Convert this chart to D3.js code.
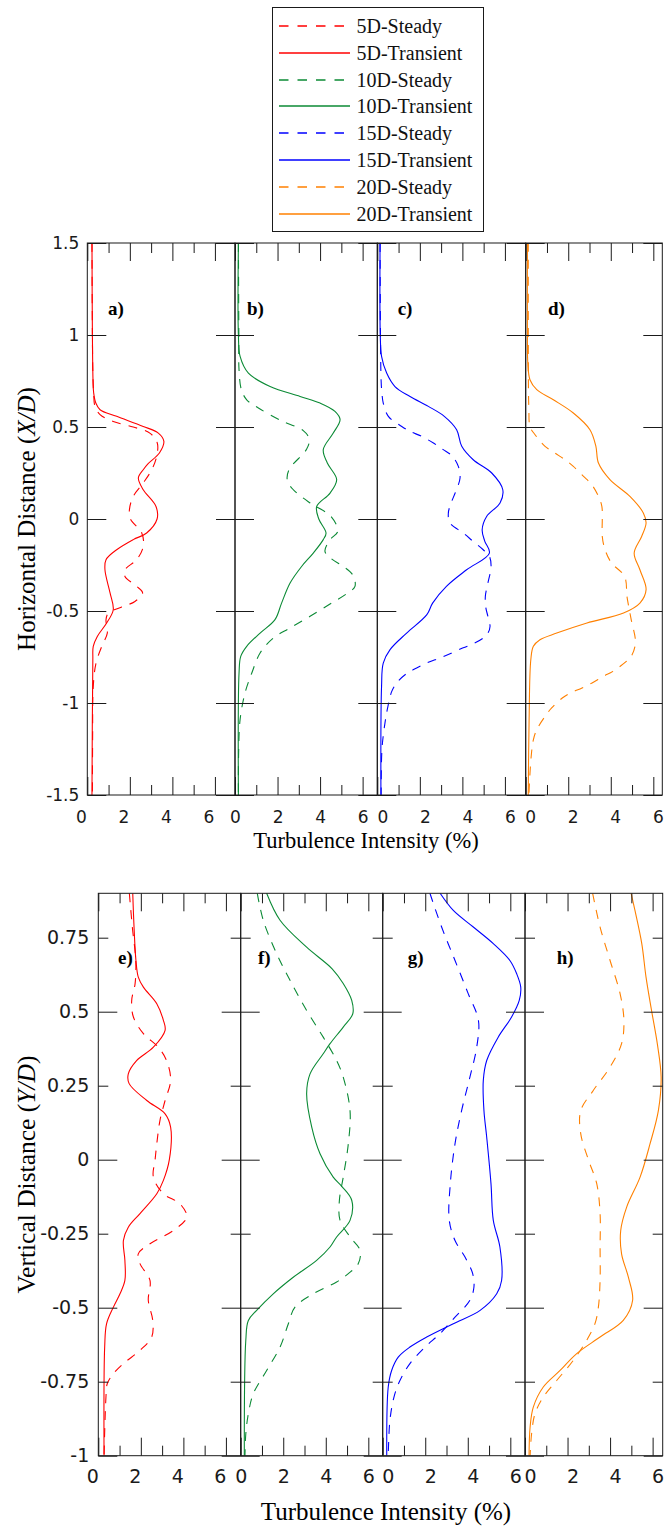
<!DOCTYPE html>
<html>
  <head>
    <meta charset="utf-8" />
    <title>Turbulence Intensity Profiles</title>
    <script src="https://d3js.org/d3.v7.min.js"></script>
    <style>
      body { margin: 0; background: #fff; }
      svg { display: block; }
    </style>
  </head>
  <body>
    <div id="chart"></div>

    <script>
      // Downstream stations and their colours
      const stations = ["5D", "10D", "15D", "20D"];
      const stationColors = ["#ff0000", "#0b8a35", "#0000ff", "#ff8000"];
      const cases = ["Steady", "Transient"];

      const xMajor = [0, 2, 4, 6];
      const xMinor = [1, 3, 5];
      const hTicks = [1.5, 1, 0.5, 0, -0.5, -1, -1.5];
      const vMajor = [0.5, 0, -0.5, -1];
      const vMinor = [0.75, 0.25, -0.25, -0.75];
      const vTicks = [0.75, 0.5, 0.25, 0, -0.25, -0.5, -0.75, -1];
      const topLetters = ["a)", "b)", "c)", "d)"];
      const bottomLetters = ["e)", "f)", "g)", "h)"];

      // Horizontal profiles: [X/D, TI %]
      const hSteady5D = [[1.5,0.22],[1.0,0.24],[0.8,0.26],[0.68,0.3],[0.612,0.36],[0.567,0.6],[0.53,1.22],[0.5,2.16],[0.467,2.94],[0.413,3.29],[0.34,3.26],[0.268,3.03],[0.196,2.63],[0.123,2.16],[0.05,1.98],[0,2.03],[-0.076,2.56],[-0.149,2.63],[-0.221,2.32],[-0.276,1.77],[-0.312,1.77],[-0.366,2.32],[-0.402,2.6],[-0.448,2.24],[-0.478,1.62],[-0.511,0.99],[-0.547,0.88],[-0.62,0.94],[-0.692,0.68],[-0.783,0.41],[-0.91,0.28],[-1.2,0.25],[-1.5,0.24]];
      const hTransient5D = [[1.5,0.22],[1.0,0.24],[0.75,0.27],[0.685,0.3],[0.63,0.4],[0.594,0.6],[0.558,1.38],[0.503,2.63],[0.467,3.34],[0.422,3.6],[0.359,3.39],[0.3,2.85],[0.268,2.63],[0.223,2.4],[0.159,2.63],[0.068,3.23],[0,3.28],[-0.076,2.79],[-0.112,2.16],[-0.167,1.38],[-0.221,0.88],[-0.276,0.83],[-0.402,1.07],[-0.493,1.22],[-0.565,0.91],[-0.638,0.47],[-0.692,0.28],[-0.765,0.26],[-1.5,0.22]];
      const hSteady10D = [[1.5,0.16],[1.0,0.18],[0.81,0.19],[0.703,0.3],[0.648,0.55],[0.603,1.1],[0.536,2.15],[0.48,3.21],[0.435,3.49],[0.38,3.37],[0.268,2.54],[0.21,2.46],[0.163,2.71],[0.087,3.53],[0.014,4.51],[-0.067,4.83],[-0.112,4.47],[-0.176,4.23],[-0.217,4.54],[-0.258,5.09],[-0.303,5.53],[-0.366,5.64],[-0.406,5.25],[-0.457,4.54],[-0.529,3.53],[-0.592,2.59],[-0.647,1.8],[-0.728,1.18],[-0.837,0.79],[-0.946,0.47],[-1.09,0.24],[-1.272,0.17],[-1.5,0.16]];
      const hTransient10D = [[1.5,0.16],[1.0,0.16],[0.884,0.24],[0.793,0.63],[0.72,1.65],[0.666,3.06],[0.63,4.0],[0.585,4.7],[0.54,4.94],[0.467,4.62],[0.377,4.15],[0.304,4.34],[0.214,4.78],[0.141,4.47],[0.068,3.84],[0,3.94],[-0.076,4.28],[-0.112,4.15],[-0.185,3.68],[-0.258,3.13],[-0.348,2.59],[-0.457,2.19],[-0.547,1.88],[-0.62,1.18],[-0.692,0.55],[-0.747,0.27],[-0.837,0.19],[-1.5,0.16]];
      const hSteady15D = [[1.5,0.13],[1.0,0.15],[0.75,0.18],[0.68,0.22],[0.63,0.28],[0.558,0.52],[0.503,1.15],[0.476,1.54],[0.449,2.09],[0.413,2.64],[0.377,3.1],[0.345,3.5],[0.286,3.81],[0.223,3.89],[0.141,3.66],[0.096,3.5],[0.033,3.34],[-0.022,3.42],[-0.076,4.04],[-0.122,4.51],[-0.167,4.98],[-0.203,5.27],[-0.258,5.35],[-0.348,5.2],[-0.42,5.08],[-0.48,5.1],[-0.529,5.2],[-0.584,5.3],[-0.62,5.2],[-0.647,4.98],[-0.678,4.51],[-0.7,4.04],[-0.728,3.5],[-0.755,2.95],[-0.779,2.4],[-0.81,1.85],[-0.84,1.38],[-0.891,0.91],[-0.937,0.68],[-1.018,0.5],[-1.109,0.36],[-1.25,0.22],[-1.5,0.18]];
      const hTransient15D = [[1.5,0.13],[1.0,0.14],[0.884,0.2],[0.793,0.44],[0.72,0.83],[0.666,1.54],[0.612,2.4],[0.558,3.15],[0.485,3.73],[0.395,3.97],[0.322,4.51],[0.25,5.38],[0.159,5.9],[0.087,5.77],[0.014,5.14],[-0.058,4.93],[-0.12,5.05],[-0.185,5.27],[-0.276,4.2],[-0.366,3.25],[-0.457,2.6],[-0.52,2.33],[-0.62,1.38],[-0.71,0.6],[-0.783,0.28],[-0.91,0.2],[-1.5,0.17]];
      const hSteady20D = [[1.5,0.12],[0.7,0.13],[0.6,0.15],[0.503,0.2],[0.458,0.44],[0.395,0.91],[0.358,1.38],[0.322,1.85],[0.286,2.24],[0.232,2.72],[0.186,3.11],[0.123,3.42],[0.069,3.58],[0,3.6],[-0.095,3.6],[-0.167,3.73],[-0.24,4.04],[-0.312,4.65],[-0.42,4.76],[-0.48,4.85],[-0.547,4.96],[-0.674,5.16],[-0.747,4.96],[-0.774,4.73],[-0.828,4.1],[-0.855,3.65],[-0.891,3.12],[-0.918,2.65],[-0.946,2.1],[-0.973,1.72],[-1.027,1.22],[-1.073,0.91],[-1.145,0.52],[-1.2,0.36],[-1.3,0.25],[-1.5,0.15]];
      const hTransient20D = [[1.5,0.08],[1.0,0.08],[0.848,0.1],[0.757,0.2],[0.703,0.52],[0.648,1.3],[0.576,2.24],[0.485,3.02],[0.395,3.3],[0.304,3.42],[0.214,3.96],[0.123,4.9],[0.033,5.53],[-0.022,5.66],[-0.095,5.45],[-0.185,5.1],[-0.276,5.37],[-0.384,5.66],[-0.457,5.37],[-0.511,4.6],[-0.565,2.88],[-0.62,1.46],[-0.656,0.67],[-0.692,0.36],[-0.765,0.24],[-1.09,0.16],[-1.5,0.12]];

      // Vertical profiles: [Y/D, TI %]
      const vSteady5D = [[0.9,1.46],[0.786,1.6],[0.673,1.76],[0.595,1.73],[0.538,1.57],[0.482,1.65],[0.426,2.12],[0.38,2.82],[0.335,3.21],[0.268,3.4],[0.2,3.14],[0.133,2.9],[0.054,2.75],[0,2.67],[-0.059,2.59],[-0.115,3.06],[-0.149,3.84],[-0.194,4.16],[-0.239,3.53],[-0.284,2.43],[-0.318,1.88],[-0.351,1.96],[-0.408,2.43],[-0.475,2.35],[-0.543,2.56],[-0.599,2.51],[-0.644,1.96],[-0.689,1.18],[-0.723,0.71],[-0.757,0.42],[-0.802,0.36],[-1,0.27]];
      const vTransient5D = [[0.9,1.62],[0.786,1.68],[0.673,1.77],[0.617,1.88],[0.583,2.12],[0.527,2.75],[0.471,3.06],[0.437,3.14],[0.38,2.59],[0.335,1.8],[0.29,1.41],[0.257,1.45],[0.2,2.28],[0.155,3.14],[0.11,3.4],[0,3.34],[-0.07,3.06],[-0.115,2.75],[-0.182,1.96],[-0.228,1.41],[-0.273,1.18],[-0.34,1.25],[-0.408,1.25],[-0.453,1.02],[-0.498,0.71],[-0.554,0.39],[-0.633,0.3],[-1,0.27]];
      const vSteady10D = [[0.9,0.78],[0.809,1.06],[0.696,1.69],[0.606,2.32],[0.504,3.1],[0.414,3.88],[0.335,4.51],[0.279,4.82],[0.166,5.14],[0.054,5.06],[-0.059,4.82],[-0.137,4.64],[-0.205,4.67],[-0.261,5.14],[-0.306,5.61],[-0.351,5.53],[-0.385,5.06],[-0.413,4.51],[-0.453,3.41],[-0.498,2.55],[-0.554,2.24],[-0.633,1.85],[-0.712,1.22],[-0.791,0.59],[-0.858,0.36],[-0.926,0.24],[-1,0.2]];
      const vTransient10D = [[0.9,1.22],[0.809,1.85],[0.718,3.1],[0.645,4.3],[0.595,4.82],[0.538,5.22],[0.493,5.27],[0.448,4.82],[0.392,4.2],[0.358,3.88],[0.29,3.26],[0.223,3.1],[0.11,3.34],[0.02,3.73],[-0.059,4.35],[-0.09,4.75],[-0.137,5.22],[-0.205,5.14],[-0.261,4.51],[-0.295,4.2],[-0.34,3.57],[-0.397,2.47],[-0.453,1.53],[-0.509,0.75],[-0.543,0.36],[-0.61,0.24],[-1,0.17]];
      const vSteady15D = [[0.9,2.22],[0.786,2.77],[0.673,3.4],[0.561,4.02],[0.471,4.5],[0.38,4.42],[0.279,4.1],[0.166,3.71],[0.054,3.4],[-0.08,3.18],[-0.205,3.13],[-0.273,3.4],[-0.329,3.87],[-0.385,4.23],[-0.43,4.29],[-0.475,4.1],[-0.532,3.4],[-0.588,2.69],[-0.633,1.99],[-0.689,1.28],[-0.746,0.81],[-0.802,0.53],[-0.88,0.34],[-1,0.26]];
      const vTransient15D = [[0.9,2.7],[0.842,3.32],[0.786,4.26],[0.73,5.2],[0.673,5.98],[0.628,6.3],[0.583,6.49],[0.538,6.42],[0.482,6.06],[0.414,5.43],[0.335,4.89],[0.268,4.73],[0.166,4.76],[0.076,4.89],[-0.08,5.09],[-0.205,5.2],[-0.295,5.51],[-0.408,5.59],[-0.453,5.36],[-0.509,4.58],[-0.554,3.32],[-0.599,2.07],[-0.633,1.28],[-0.667,0.73],[-0.712,0.42],[-0.768,0.26],[-1,0.19]];
      const vSteady20D = [[0.9,3.18],[0.786,3.53],[0.673,4.0],[0.561,4.47],[0.471,4.65],[0.392,4.54],[0.313,4.0],[0.234,3.21],[0.166,2.62],[0.088,2.62],[0,2.98],[-0.08,3.37],[-0.182,3.53],[-0.295,3.53],[-0.408,3.53],[-0.498,3.45],[-0.554,3.29],[-0.61,2.9],[-0.678,2.27],[-0.746,1.49],[-0.802,0.86],[-0.858,0.47],[-0.926,0.31],[-1,0.24]];
      const vTransient20D = [[0.9,4.99],[0.842,5.17],[0.73,5.49],[0.617,5.69],[0.504,5.95],[0.392,6.22],[0.279,6.4],[0.166,6.27],[0.054,5.88],[-0.059,5.41],[-0.16,4.78],[-0.239,4.5],[-0.318,4.54],[-0.397,4.86],[-0.475,5.06],[-0.543,4.62],[-0.599,3.53],[-0.655,2.43],[-0.712,1.65],[-0.768,0.86],[-0.836,0.39],[-0.903,0.24],[-1,0.19]];

      const hProfiles = [
        [hSteady5D, hTransient5D], [hSteady10D, hTransient10D],
        [hSteady15D, hTransient15D], [hSteady20D, hTransient20D]
      ];
      const vProfiles = [
        [vSteady5D, vTransient5D], [vSteady10D, vTransient10D],
        [vSteady15D, vTransient15D], [vSteady20D, vTransient20D]
      ];

      const serif = "'Liberation Serif', 'Times New Roman', serif";
      const sans = "'DejaVu Sans', sans-serif";
      const unit = 21.27; // px per 1 % of turbulence intensity

      const rows = [
        {
          edges: [87.3, 235, 377.3, 525.7, 662.3], top: 243, bottom: 795,
          domain: [-1.5, 1.5], yMajor: hTicks, yMinor: [], yLabels: hTicks,
          profiles: hProfiles, letters: topLetters,
          letterPos: [20.7, 12, 20.4, 22.3], letterY: 315,
          labelShift: [-6.5, 0, 5, 4.5], tickFont: 17, xPad: 16.3, yPad: 8,
          xTitleY: 848, xTitleX: 366, xTitleSize: 22.5,
          yTitle: ["Horizontal Distance (", "X/D", ")"], yTitleSize: 25
        },
        {
          edges: [98.3, 240.7, 382.7, 525, 662.7], top: 893.3, bottom: 1455.7,
          domain: [-1, 0.9], yMajor: vMajor, yMinor: vMinor, yLabels: vTicks,
          profiles: vProfiles, letters: bottomLetters,
          letterPos: [19.7, 17.3, 25, 31.7], letterY: 964,
          labelShift: [-6, 0, 5, 5], tickFont: 19, xPad: 14.2, yPad: 9,
          xTitleY: 1520, xTitleX: 386, xTitleSize: 25,
          yTitle: ["Vertical Distance (", "Y/D", ")"], yTitleSize: 25.5
        }
      ];

      const svg = d3.select("#chart").append("svg")
        .attr("width", 670).attr("height", 1528);

      function styleAxis(g, size) {
        g.select(".domain").remove();
        g.attr("font-family", sans).attr("font-size", size).attr("color", "#1a1a1a");
        g.selectAll("line").attr("stroke-width", 1);
      }

      rows.forEach((row, r) => {
        const y = d3.scaleLinear().domain(row.domain).range([row.bottom, row.top]);

        stations.forEach((st, i) => {
          const x0 = row.edges[i], x1 = row.edges[i + 1];
          const x = d3.scaleLinear().domain([0, 7]).range([x0, x0 + 7 * unit]);
          const g = svg.append("g");

          const clipId = `clip-${r}-${i}`;
          g.append("clipPath").attr("id", clipId).append("rect")
            .attr("x", x0).attr("y", row.top)
            .attr("width", x1 - x0).attr("height", row.bottom - row.top);

          // curves
          const line = d3.line()
            .x(d => x(d[1])).y(d => y(d[0]))
            .curve(d3.curveCatmullRom.alpha(0.5));
          const curves = g.append("g").attr("clip-path", `url(#${clipId})`);
          row.profiles[i].forEach((data, k) => {
            curves.append("path")
              .datum(data)
              .attr("d", line)
              .attr("fill", "none")
              .attr("stroke", stationColors[i])
              .attr("stroke-width", 1.1)
              .attr("stroke-dasharray", k === 0 ? "9,8" : null);
          });

          // bottom axis
          const bMaj = g.append("g").attr("transform", `translate(0,${row.bottom})`)
            .call(d3.axisBottom(x).tickValues(xMajor).tickSize(-18)
              .tickPadding(row.xPad).tickFormat(d3.format("d")));
          styleAxis(bMaj, row.tickFont);
          bMaj.selectAll("text").attr("dx", row.labelShift[i]);
          const bMin = g.append("g").attr("transform", `translate(0,${row.bottom})`)
            .call(d3.axisBottom(x).tickValues(xMinor).tickSize(-10).tickFormat(""));
          styleAxis(bMin, row.tickFont);

          // top axis
          const tMaj = g.append("g").attr("transform", `translate(0,${row.top})`)
            .call(d3.axisTop(x).tickValues(xMajor).tickSize(-18).tickFormat(""));
          styleAxis(tMaj, row.tickFont);
          const tMin = g.append("g").attr("transform", `translate(0,${row.top})`)
            .call(d3.axisTop(x).tickValues(xMinor).tickSize(-10).tickFormat(""));
          styleAxis(tMin, row.tickFont);

          // left / right axes
          const lMaj = g.append("g").attr("transform", `translate(${x0},0)`)
            .call(d3.axisLeft(y).tickValues(row.yMajor).tickSize(-19).tickFormat(""));
          styleAxis(lMaj, row.tickFont);
          const lMin = g.append("g").attr("transform", `translate(${x0},0)`)
            .call(d3.axisLeft(y).tickValues(row.yMinor).tickSize(-10).tickFormat(""));
          styleAxis(lMin, row.tickFont);
          const rMaj = g.append("g").attr("transform", `translate(${x1},0)`)
            .call(d3.axisRight(y).tickValues(row.yMajor).tickSize(-19).tickFormat(""));
          styleAxis(rMaj, row.tickFont);
          const rMin = g.append("g").attr("transform", `translate(${x1},0)`)
            .call(d3.axisRight(y).tickValues(row.yMinor).tickSize(-10).tickFormat(""));
          styleAxis(rMin, row.tickFont);

          if (i === 0) {
            const lab = g.append("g").attr("transform", `translate(${x0},0)`)
              .call(d3.axisLeft(y).tickValues(row.yLabels).tickSize(0)
                .tickPadding(row.yPad).tickFormat(d => String(d)));
            styleAxis(lab, row.tickFont);
          }

          // frame
          g.append("rect")
            .attr("x", x0).attr("y", row.top)
            .attr("width", x1 - x0).attr("height", row.bottom - row.top)
            .attr("fill", "none").attr("stroke", "#1a1a1a").attr("stroke-width", 1);

          // panel letter
          g.append("text")
            .attr("x", x0 + row.letterPos[i]).attr("y", row.letterY)
            .attr("font-family", serif).attr("font-weight", "bold")
            .attr("font-size", 19).text(row.letters[i]);
        });

        // axis titles
        svg.append("text")
          .attr("x", row.xTitleX).attr("y", row.xTitleY)
          .attr("text-anchor", "middle")
          .attr("font-family", serif).attr("font-size", row.xTitleSize)
          .text("Turbulence Intensity (%)");

        const yt = svg.append("text")
          .attr("transform", `translate(35,${(row.top + row.bottom) / 2}) rotate(-90)`)
          .attr("text-anchor", "middle")
          .attr("font-family", serif).attr("font-size", row.yTitleSize);
        yt.append("tspan").text(row.yTitle[0]);
        yt.append("tspan").attr("font-style", "italic").text(row.yTitle[1]);
        yt.append("tspan").text(row.yTitle[2]);
      });

      // legend
      const legendItems = stations.flatMap((s, i) =>
        cases.map((c, k) => ({ label: `${s}-${c}`, color: stationColors[i], dashed: k === 0 })));
      const legend = svg.append("g");
      legend.append("rect")
        .attr("x", 272.5).attr("y", 7.5).attr("width", 211).attr("height", 224)
        .attr("fill", "#fff").attr("stroke", "#1a1a1a").attr("stroke-width", 1);
      const ly = d3.scalePoint().domain(legendItems.map(d => d.label)).range([26, 213.5]);
      const items = legend.selectAll("g.item").data(legendItems).join("g")
        .attr("class", "item")
        .attr("transform", d => `translate(0,${Math.round(ly(d.label))})`);
      items.append("line")
        .attr("x1", 279).attr("x2", 350)
        .attr("stroke", d => d.color).attr("stroke-width", 1.3)
        .attr("stroke-dasharray", d => d.dashed ? "9.5,9" : null);
      items.append("text")
        .attr("x", 356.5).attr("y", 7)
        .attr("font-family", serif).attr("font-size", 20)
        .attr("fill", "#111")
        .text(d => d.label);
    </script>
  </body>
</html>
